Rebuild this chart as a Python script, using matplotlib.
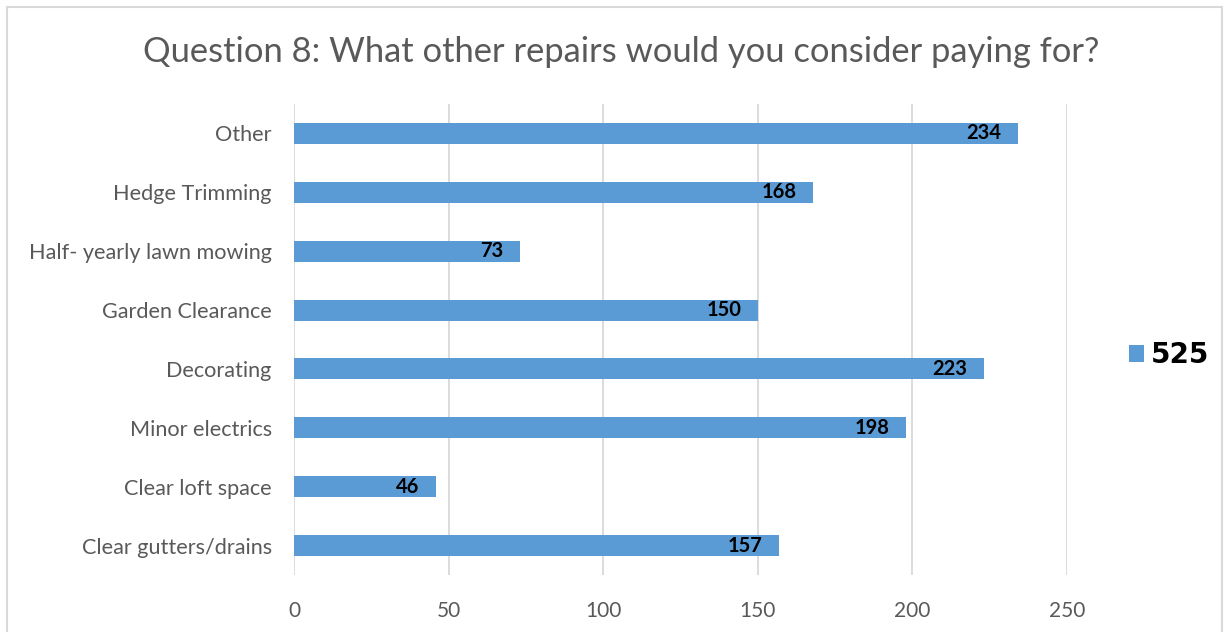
import matplotlib
matplotlib.use("Agg")
import matplotlib.pyplot as plt
from matplotlib.patches import Rectangle
import numpy as np

categories = ["Clear gutters/drains", "Clear loft space", "Minor electrics", "Decorating",
              "Garden Clearance", "Half- yearly lawn mowing", "Hedge Trimming", "Other"]
values = [157, 46, 198, 223, 150, 73, 168, 234]
series_name = "525"
x_ticks = [0, 50, 100, 150, 200, 250]

bar_color = "#5b9bd5"
text_gray = "#595959"
grid_gray = "#d9d9d9"

plt.rcParams["font.family"] = ["Lato", "DejaVu Sans"]

fig = plt.figure(figsize=(12.31, 6.32), dpi=100)
fig.patches.append(Rectangle((7 / 1231, -0.1), 1215 / 1231, 1.1 - 7 / 632, transform=fig.transFigure,
                             fill=False, edgecolor="#d9d9d9", linewidth=1.5))
ax = fig.add_axes([294 / 1231, 1 - 575 / 632, (1067 - 294) / 1231, 471 / 632])

y = np.arange(len(categories))
ax.barh(y, values, height=0.356, color=bar_color, zorder=3, label=series_name)
for yi, v in zip(y, values):
    ax.annotate(f"{v}", xy=(v, yi), xytext=(-12, 0), textcoords="offset points",
                ha="right", va="center", fontsize=14.5, fontweight="bold", color="black", zorder=4)

ax.set_xlim(0, 250)
ax.set_ylim(-0.5, len(categories) - 0.5)
ax.set_xticks(x_ticks)
ax.set_yticks(y)
ax.set_yticklabels(categories)
ax.tick_params(axis="x", length=0, pad=19, labelsize=15, labelcolor=text_gray)
ax.tick_params(axis="y", length=0, pad=16, labelsize=15.6, labelcolor=text_gray)
ax.grid(axis="x", color=grid_gray, linewidth=1.3, zorder=0)
for s in ax.spines.values():
    s.set_visible(False)

fig.text(621 / 1231, 1 - 52 / 632, "Question 8: What other repairs would you consider paying for?",
         ha="center", va="center", fontsize=24.8, color=text_gray)

ax.legend(loc="center left", bbox_to_anchor=(1104 / 1231, 1 - 355 / 632),
          bbox_transform=fig.transFigure, frameon=False, handlelength=0.55, handleheight=0.55,
          handletextpad=0.25, prop={"family": "DejaVu Sans", "weight": "bold", "size": 20})

fig.savefig("out.png", dpi=100)
